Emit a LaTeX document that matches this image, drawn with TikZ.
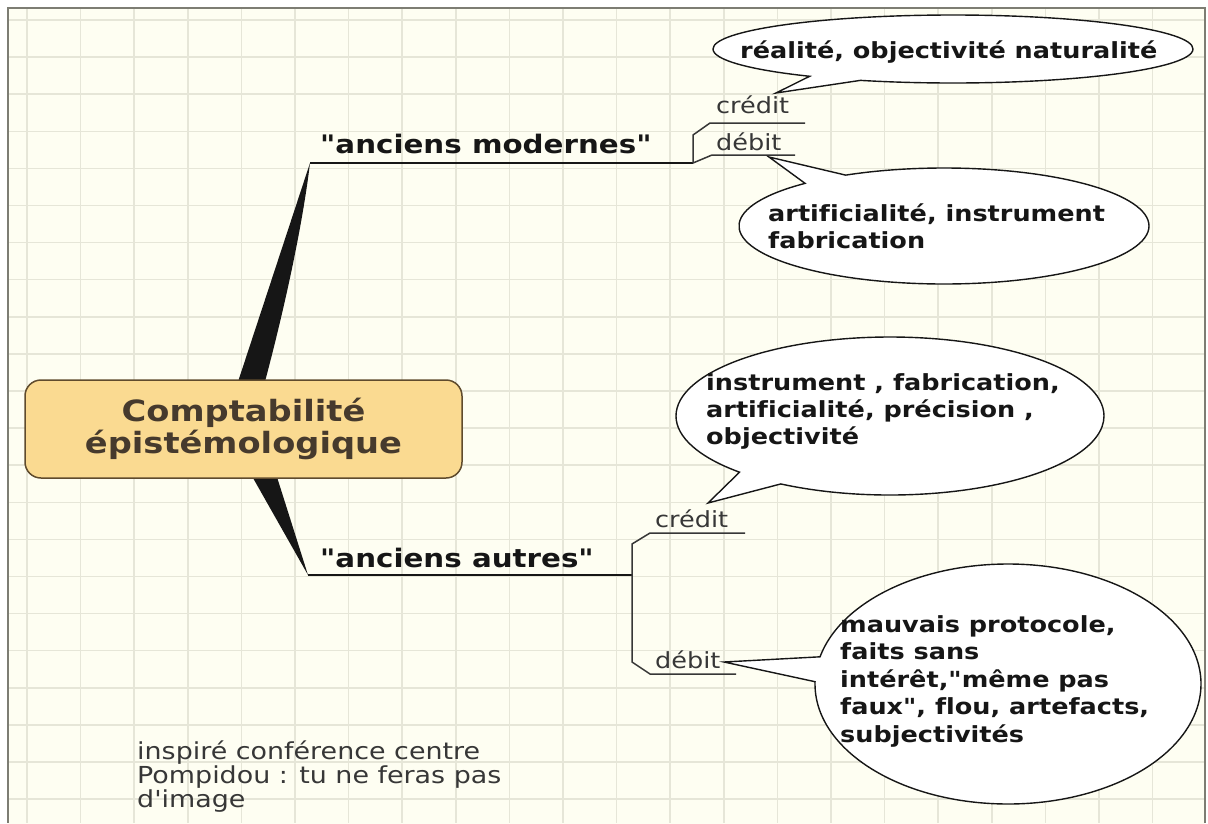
\documentclass[tikz,border=0pt]{standalone}
\usepackage{fontspec}
\setmainfont{DejaVu Sans}[FakeStretch=1.15,Ligatures={TeXOff,CommonOff}]
\usetikzlibrary{shapes.callouts}
\definecolor{paper}{RGB}{254,254,242}
\definecolor{gridc}{RGB}{230,230,216}
\definecolor{framec}{RGB}{125,125,115}
\definecolor{nodefill}{RGB}{250,218,145}
\definecolor{nodeedge}{RGB}{95,75,45}
\definecolor{titlec}{RGB}{70,58,45}
\definecolor{ink}{RGB}{22,22,22}
\definecolor{labelc}{RGB}{55,55,55}
\begin{document}
\begin{tikzpicture}[x=1pt,y=-1pt,
  bubble/.style={ellipse callout, draw=ink, line width=1.4pt, fill=white, inner sep=0pt, callout pointer arc=14},
  bubtext/.style={anchor=base west, inner sep=0pt, align=left, text=ink, font=\fontsize{22.2}{27}\selectfont\bfseries},
  lab/.style={anchor=base west, inner sep=0pt, text=labelc, font=\fontsize{22.2}{24}\selectfont},
  branch/.style={anchor=base west, inner sep=0pt, text=ink, font=\fontsize{25.5}{28}\selectfont\bfseries},
  mainline/.style={line width=2pt, draw=ink},
  subline/.style={line width=1.5pt, draw=labelc},
  wedge/.style={fill=ink},
]
\useasboundingbox (0,0) rectangle (1208,823);
\fill[white] (0,0) rectangle (1208,823);
\fill[paper] (8,8) rectangle (1205,830);
\begin{scope}
\clip (8,8) rectangle (1205,823);
\foreach \i in {0,...,21} \draw[gridc, line width=1.5pt] ({27+53.6*\i},8) -- ({27+53.6*\i},823);
\foreach \i in {0,...,21} \draw[gridc, line width=1.5pt] (8,{20+37.1*\i}) -- (1205,{20+37.1*\i});
\end{scope}
\draw[framec, line width=1.5pt] (8,823) -- (8,8) -- (1205,8) -- (1205,823);

% tapered connectors
\coordinate (tipM) at (310,163);
\coordinate (tipA) at (308,575);
\fill[wedge] (232,400) -- (tipM) .. controls (302,230) and (282,320) .. (260,400) -- cycle;
\fill[wedge] (240,455) -- (tipA) -- (270,455) -- cycle;

% root
\node[draw=nodeedge, line width=1.5pt, fill=nodefill, rounded corners=16pt,
      minimum width=437pt, minimum height=98pt, align=center, text=titlec,
      font=\fontsize{29.3}{32}\selectfont\bfseries] (root) at (243.5,429)
      {Comptabilité\\épistémologique};

% branch "anciens modernes"
\node[branch] (modernes) at (320,153) {"anciens modernes"};
\coordinate (forkM) at (693,163);
\draw[mainline] (tipM) -- (forkM);
\node[lab] (creditM) at (716,113) {crédit};
\node[lab] (debitM) at (716,150) {débit};
\draw[subline] (forkM) -- ++(0,-28) -- ++(17,-12) -- ++(95,0);
\draw[subline] (forkM) -- ++(19,-8) -- ++(83,0);

% branch "anciens autres"
\node[branch] (autres) at (320,567) {"anciens autres"};
\coordinate (forkA) at (632,575);
\draw[mainline] (tipA) -- (forkA);
\node[lab] (creditA) at (655,527) {crédit};
\node[lab] (debitA) at (655,668) {débit};
\draw[subline] (forkA) -- ++(0,-31) -- ++(18,-11) -- ++(95,0);
\draw[subline] (forkA) -- ++(0,87) -- ++(18,12) -- ++(86,0);

% bubbles (text nodes anchored at the baseline of their last line)
\node[bubble, minimum width=480pt, minimum height=68pt, callout absolute pointer={(776,93)}] (b1) at (953,49) {};
\node[bubtext] (t1) at (740,58) {réalité, objectivité naturalité};

\node[bubble, minimum width=410pt, minimum height=116pt, callout absolute pointer={(769,157)}] (b2) at (944,226) {};
\node[bubtext] (t2) at (768,248) {artificialité, instrument\\fabrication};

\node[bubble, minimum width=428pt, minimum height=158pt, callout absolute pointer={(708,503)}] (b3) at (890,416) {};
\node[bubtext] (t3) at (706,444) {instrument , fabrication,\\artificialité, précision ,\\objectivité};

\node[bubble, callout pointer arc=12, minimum width=386pt, minimum height=240pt, callout absolute pointer={(724,662)}] (b4) at (1008,684) {};
\node[bubtext, font=\fontsize{22.2}{27.5}\selectfont\bfseries] (t4) at (840,742) {mauvais protocole,\\faits sans\\intérêt,"même pas\\faux", flou, artefacts,\\subjectivités};

% note
\node[anchor=base west, inner sep=0pt, align=left, text=labelc,
      font=\fontsize{23.4}{24}\selectfont] (note) at (137,807)
      {inspiré conférence centre\\Pompidou : tu ne feras pas\\d'image};
\end{tikzpicture}
\end{document}
